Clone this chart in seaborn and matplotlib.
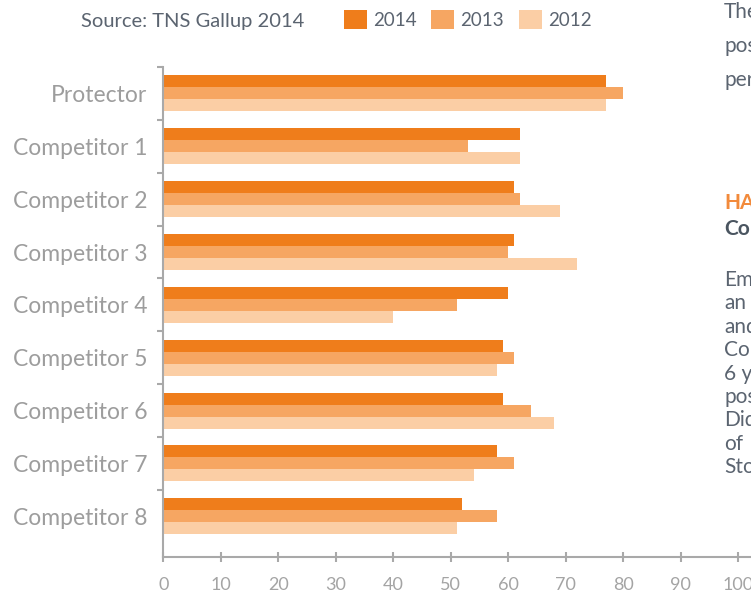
import matplotlib
matplotlib.use('Agg')
import matplotlib.pyplot as plt
import numpy as np
import pandas as pd
import seaborn as sns

brands = ['Protector', 'Competitor 1', 'Competitor 2', 'Competitor 3', 'Competitor 4',
          'Competitor 5', 'Competitor 6', 'Competitor 7', 'Competitor 8']
years = ['2014', '2013', '2012']
vals_2014 = [77, 62, 61, 61, 60, 59, 59, 58, 52]
vals_2013 = [80, 53, 62, 60, 51, 61, 64, 61, 58]
vals_2012 = [77, 62, 69, 72, 40, 58, 68, 54, 51]
xticks = [0, 10, 20, 30, 40, 50, 60, 70, 80, 90, 100]
colors = ['#EF7D1B', '#F6A662', '#FBCEA5']

# side text from the page the chart was cut out of (clipped at the right edge)
side_top = ['The', 'pos', 'per']
side_head = 'HA'
side_sub = 'Co'
side_body = ['Em', 'an', 'and', 'Co', '6 y', 'pos', 'Did', 'of', 'Sto']

df = pd.DataFrame({
    'brand': brands * 3,
    'year': [y for y in years for _ in brands],
    'value': vals_2014 + vals_2013 + vals_2012,
})

sns.set_theme(style='white')
plt.rcParams['font.family'] = ['Lato', 'DejaVu Sans']

W, H = 751, 597
fig = plt.figure(figsize=(W / 100, H / 100), dpi=100)
ax = fig.add_axes([163.3 / W, 1 - 557 / H, (W - 163.3) / W, (557 - 67) / H])

sns.barplot(data=df, y='brand', x='value', hue='year', hue_order=years, order=brands,
            orient='h', palette=colors, saturation=1, width=0.68, errorbar=None,
            linewidth=0, ax=ax, legend=True)

grey = '#a9a9a9'
ax.set_xlim(0, (W - 163.3) / 5.75)
ax.set_ylim(8.77, -0.5)
ax.set_xlabel('')
ax.set_ylabel('')
ax.set_xticks(xticks)
ax.set_xticklabels([str(t) for t in xticks], color='#a4a4a4', fontsize=13)
ax.set_yticks(range(len(brands)))
ax.set_yticklabels(brands, color='#9d9d9d', fontsize=16.5)
ax.set_yticks(np.arange(-0.5, len(brands) - 1, 1), minor=True)
ax.tick_params(axis='y', which='major', length=0, pad=11.5)
ax.tick_params(axis='y', which='minor', length=4.5, width=1.5, color=grey, left=True)
ax.tick_params(axis='x', length=7.5, width=1.5, color=grey, bottom=True,
               direction='inout', pad=11)
for s in ['top', 'right']:
    ax.spines[s].set_visible(False)
for s in ['left', 'bottom']:
    ax.spines[s].set_color(grey)
    ax.spines[s].set_linewidth(1.5)

# legend: one entry per box so each square sits where it does in the original
handles, labels = ax.get_legend_handles_labels()
ax.get_legend().remove()
leg_fs = 13.5
fs_px = leg_fs * 100 / 72
for h, lab, x0 in zip(handles, labels, [344, 431, 519]):
    fig.legend([h], [lab], loc='center left', bbox_to_anchor=(x0 / W, 1 - 19.5 / H),
               frameon=False, fontsize=leg_fs,
               handlelength=23 / fs_px, handleheight=23 / fs_px,
               handletextpad=6 / fs_px, borderpad=0, borderaxespad=0,
               labelcolor='#5b6470')

fig.text(81 / W, 1 - 26.5 / H, 'Source: TNS Gallup 2014', color='#5b6470',
         fontsize=14.5, ha='left', va='baseline')

body_col = '#5b6470'
sx = 724 / W
for t, base in zip(side_top, [18, 52, 86]):
    fig.text(sx, 1 - base / H, t, color=body_col, fontsize=15, va='baseline')
fig.text(sx, 1 - 209 / H, side_head, color='#F28A3B', fontsize=15, va='baseline', fontweight='bold')
fig.text(sx, 1 - 235 / H, side_sub, color='#4a5560', fontsize=15, va='baseline', fontweight='bold')
for i, t in enumerate(side_body):
    fig.text(sx, 1 - (286 + 23.4 * i) / H, t, color=body_col, fontsize=15, va='baseline')

fig.savefig('out.png', dpi=100)
